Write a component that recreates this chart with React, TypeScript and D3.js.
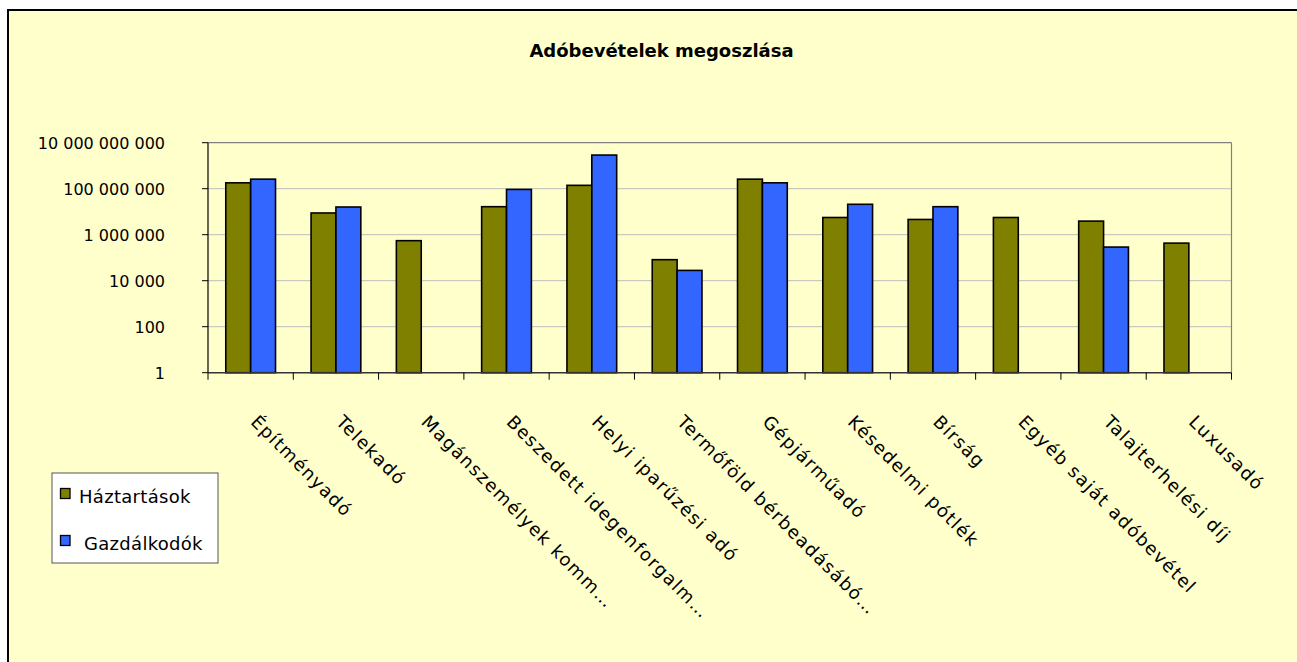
import React from "react";
import * as d3 from "d3";

const categories = [
  "Építményadó",
  "Telekadó",
  "Magánszemélyek komm…",
  "Beszedett idegenforgalm…",
  "Helyi iparűzési adó",
  "Termőföld bérbeadásábó…",
  "Gépjárműadó",
  "Késedelmi pótlék",
  "Bírság",
  "Egyéb saját adóbevétel",
  "Talajterhelési díj",
  "Luxusadó",
];
const haztartasok: (number | null)[] = [1.8e8, 8.8e6, 5.5e5, 1.65e7, 1.4e8, 8.2e4, 2.6e8, 5.6e6, 4.6e6, 5.6e6, 3.9e6, 4.3e5];
const gazdalkodok: (number | null)[] = [2.6e8, 1.6e7, null, 9.3e7, 2.9e9, 2.8e4, 1.8e8, 2.1e7, 1.65e7, null, 2.9e5, null];
const seriesNames = ["Háztartások", "Gazdálkodók"];
const seriesColors = ["#808000", "#3366FF"];
const yTicks = [1, 100, 1e4, 1e6, 1e8, 1e10];
const yTickLabels = ["1", "100", "10 000", "1 000 000", "100 000 000", "10 000 000 000"];
const title = "Adóbevételek megoszlása";

const W = 1297;
const H = 662;
const plot = { left: 208, right: 1231.5, top: 142.7, bottom: 372.7 };
const FONT = "'DejaVu Sans', sans-serif";

export default function App() {
  const x = d3
    .scaleBand<string>()
    .domain(categories)
    .range([plot.left, plot.right])
    .paddingInner(0)
    .paddingOuter(0);
  const y = d3.scaleLog().domain([1, 1e10]).range([plot.bottom, plot.top]);
  const bw = x.bandwidth();
  const barW = bw / 3.43;
  const series = [haztartasok, gazdalkodok];

  return (
    <svg
      width={W}
      height={H}
      style={{ position: "absolute", left: 0, top: 0, background: "#ffffff" }}
      fontFamily={FONT}
    >
      <rect x={8} y={10} width={1320} height={700} fill="#FFFFCC" stroke="#000" strokeWidth={2} />
      <text
        x={661.5}
        y={57}
        textAnchor="middle"
        fontSize={18}
        fontWeight="bold"
        fill="#000"
      >
        {title}
      </text>

      {/* gridlines */}
      {yTicks.slice(1, -1).map((t) => (
        <line key={t} x1={plot.left} x2={plot.right} y1={y(t)} y2={y(t)} stroke="#BDBDBD" strokeWidth={1} />
      ))}
      {/* plot border top/right */}
      <line x1={plot.left} x2={plot.right} y1={plot.top} y2={plot.top} stroke="#808080" strokeWidth={1.2} />
      <line x1={plot.right} x2={plot.right} y1={plot.top} y2={plot.bottom} stroke="#808080" strokeWidth={1.2} />

      {/* bars */}
      {categories.map((c, i) =>
        series.map((s, si) => {
          const v = s[i];
          if (v == null) return null;
          const cx = (x(c) as number) + bw / 2;
          const bx = cx - barW + si * barW;
          return (
            <rect
              key={c + si}
              x={bx}
              y={y(v)}
              width={barW}
              height={plot.bottom - y(v)}
              fill={seriesColors[si]}
              stroke="#000"
              strokeWidth={1.6}
            />
          );
        })
      )}

      {/* axes */}
      <line x1={plot.left} x2={plot.left} y1={plot.top} y2={plot.bottom} stroke="#000" strokeWidth={1.2} />
      <line x1={plot.left} x2={plot.right} y1={plot.bottom} y2={plot.bottom} stroke="#333" strokeWidth={1.5} />
      {yTicks.map((t, i) => (
        <g key={t}>
          <line x1={plot.left - 6} x2={plot.left} y1={y(t)} y2={y(t)} stroke="#000" strokeWidth={1} />
          <text x={165} y={y(t) + 6} textAnchor="end" fontSize={16} fill="#000">
            {yTickLabels[i]}
          </text>
        </g>
      ))}
      {categories.map((c) => (
        <line
          key={"t" + c}
          x1={x(c) as number}
          x2={x(c) as number}
          y1={plot.bottom}
          y2={plot.bottom + 7}
          stroke="#000"
          strokeWidth={1}
        />
      ))}
      <line x1={plot.right} x2={plot.right} y1={plot.bottom} y2={plot.bottom + 7} stroke="#000" strokeWidth={1} />

      {/* category labels */}
      {categories.map((c) => {
        const cx = (x(c) as number) + bw / 2;
        return (
          <text
            key={"l" + c}
            transform={`translate(${cx - 1},${423}) rotate(45)`}
            fontSize={18}
            letterSpacing={1.4}
            fill="#000"
          >
            {c}
          </text>
        );
      })}

      {/* legend */}
      <rect x={52} y={473} width={166} height={90} fill="#fff" stroke="#555" strokeWidth={1} />
      {seriesNames.map((n, i) => (
        <g key={n}>
          <rect
            x={60.5}
            y={488.5 + i * 47}
            width={9.5}
            height={10}
            fill={seriesColors[i]}
            stroke="#000"
            strokeWidth={1.3}
          />
          <text x={i === 0 ? 79 : 84} y={503 + i * 47} fontSize={18} letterSpacing={0.3} fill="#000">
            {n}
          </text>
        </g>
      ))}
    </svg>
  );
}
